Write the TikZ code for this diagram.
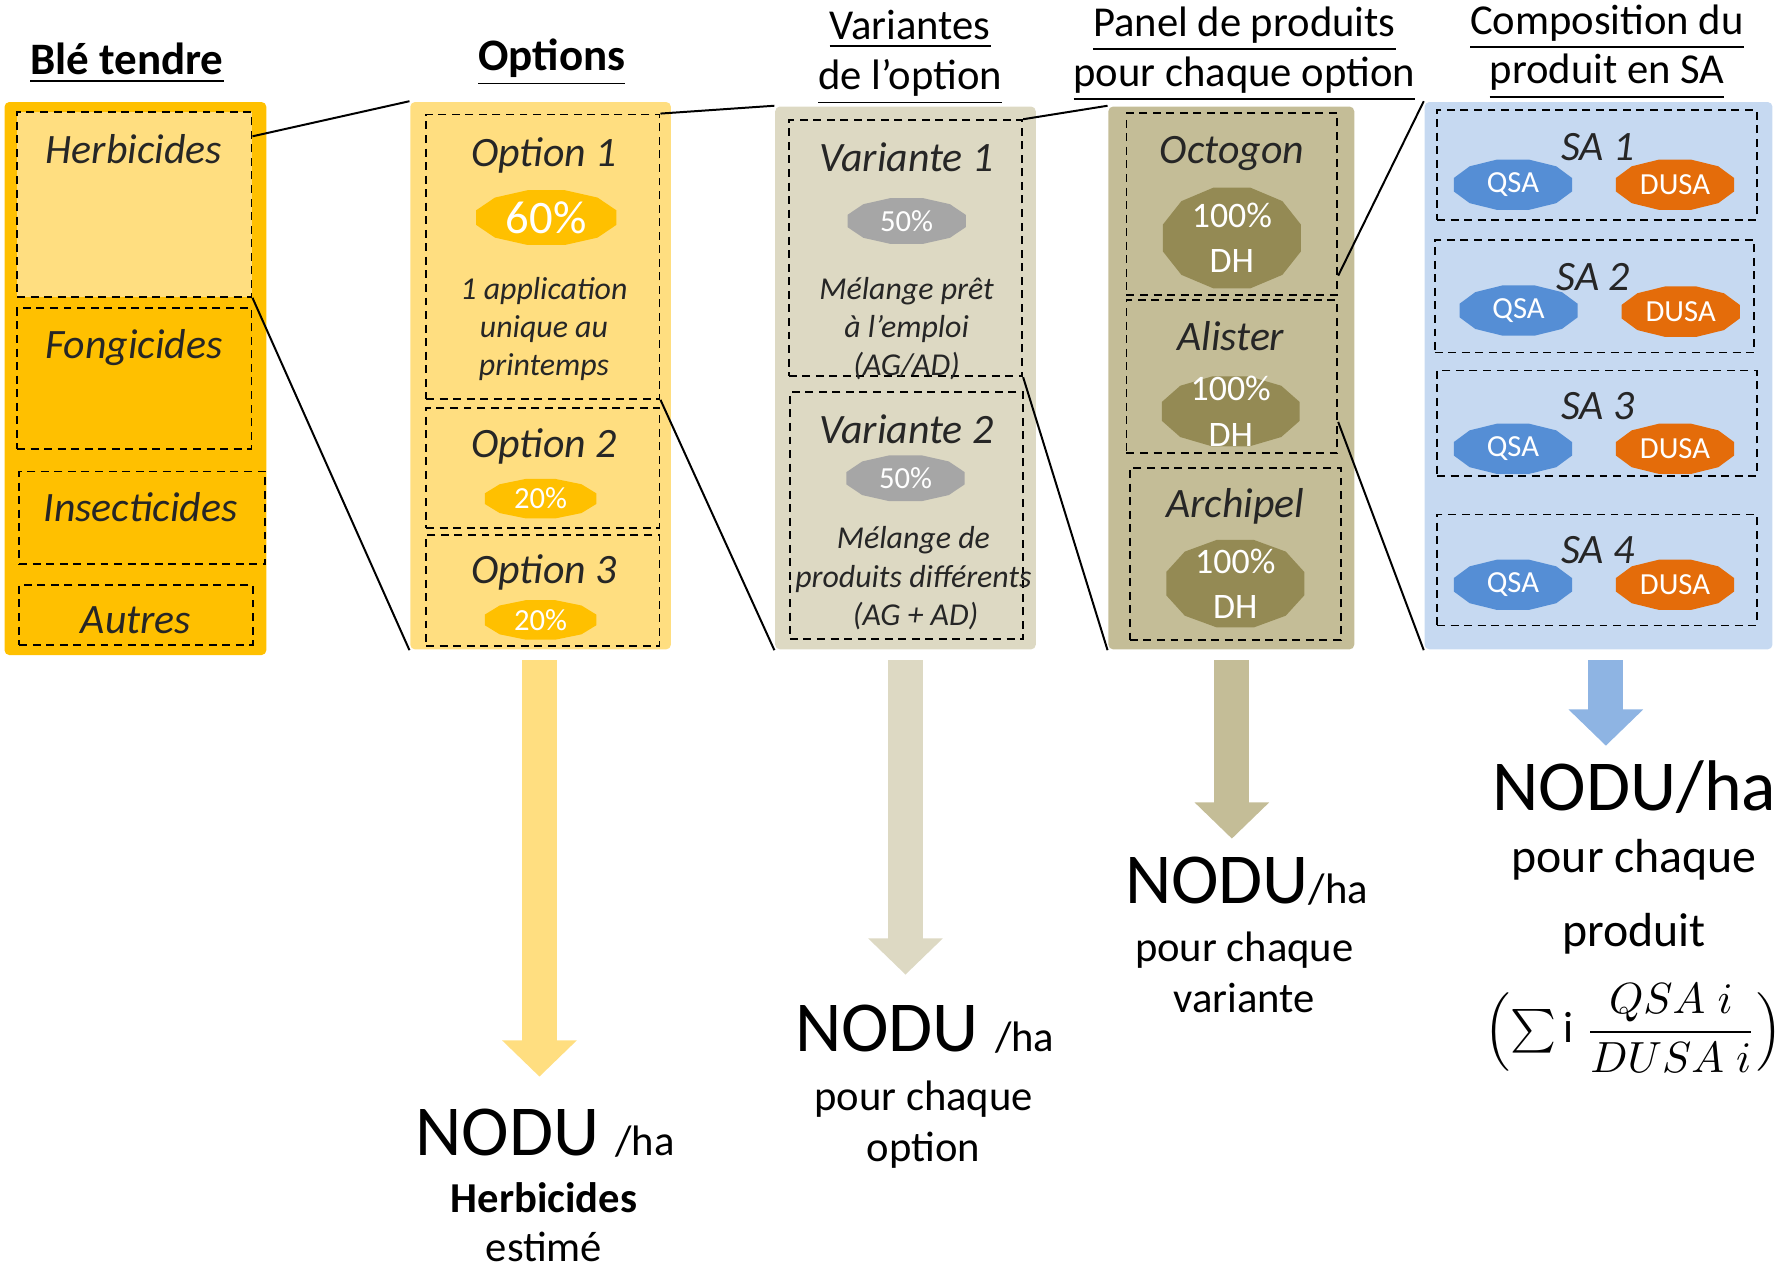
\documentclass[tikz,border=0pt]{standalone}
\usepackage{fontspec}
\usepackage{amsmath}
\setmainfont{Carlito}
\usetikzlibrary{arrows.meta, positioning, calc, fit}

\definecolor{gold}{HTML}{FFC000}
\definecolor{goldlight}{HTML}{FFDE80}
\definecolor{tan}{HTML}{DDD9C3}
\definecolor{tandark}{HTML}{C4BD97}
\definecolor{olive}{HTML}{948A54}
\definecolor{skylight}{HTML}{C6D9F1}
\definecolor{skyarrow}{HTML}{8EB4E3}
\definecolor{qsablue}{HTML}{558ED5}
\definecolor{dusaorange}{HTML}{E46C0A}
\definecolor{pctgray}{HTML}{A6A6A6}
\definecolor{ink}{HTML}{262626}

% badge: name, centre, half width, half height, fill, node options, text
\newcommand{\badge}[7]{%
  \fill[#5, shift={(#2)}] plot[samples=13, domain=15:375, variable=\t] ({#3*cos(\t)}, {#4*sin(\t)}) -- cycle;
  \node[pct, #6] (#1) at (#2) {#7};}

\begin{document}
\begin{tikzpicture}[x=0.1mm, y=-0.1mm,
        panelcol/.style={fill=#1, rounded corners=1.2pt, inner sep=0pt},
        dbox/.style={draw=black, dash pattern=on 2pt off 1.4pt, line width=0.45pt, inner sep=0pt},
        head/.style={font=\fontsize{10.7}{13}\selectfont, anchor=base, inner sep=0pt},
        boldhead/.style={font=\fontsize{11.3}{13}\selectfont\bfseries, anchor=base, inner sep=0pt},
        item/.style={font=\fontsize{10.5}{12}\selectfont\itshape, text=ink, anchor=base, inner sep=0pt},
        detail/.style={font=\fontsize{8}{9.7}\selectfont\itshape, text=ink, anchor=base, inner sep=0pt},
        pct/.style={text=white, align=center, inner sep=0pt, font=\fontsize{7.7}{9}\selectfont},
        dh/.style={font=\fontsize{9}{11.4}\selectfont},
        zoomline/.style={draw=black, line width=0.5pt},
        fat/.style={line width=3.1mm, -{Triangle[width=6.4mm, length=3.2mm]}},
        nodu/.style={font=\fontsize{18}{20}\selectfont, anchor=base, inner sep=0pt},
        result/.style={font=\fontsize{10.7}{13}\selectfont, anchor=base, inner sep=0pt}
    ]
        \useasboundingbox (0,0) rectangle (1568,1124);

        % Ble tendre
        \node[boldhead] (tBle) at (112,66) {\underline{Blé tendre}};
        \node[panelcol=gold, fit={(4,90) (235,578)}] (ble) {};
        \node[dbox, fill=goldlight, fit={(15,99) (222,262)}] (herb) {};
        \node[dbox, fit={(15,272) (222,396)}] (fong) {};
        \node[dbox, fit={(17,416) (234,498)}] (insect) {};
        \node[dbox, fit={(17,516) (223,569)}] (autres) {};
        \node[item] (lHerb) at (118,144) {Herbicides};
        \node[item] (lFong) at (118,316) {Fongicides};
        \node[item] (lInsect) at (124,460) {Insecticides};
        \node[item] (lAutres) at (120,559) {Autres};

        % Options
        \node[boldhead] (tOpt) at (487,62) {\underline{Options}};
        \node[panelcol=goldlight, fit={(362,90) (592,573)}] (opts) {};
        \node[dbox, fit={(376,101) (582,352)}] (opt1) {};
        \node[dbox, fit={(376,360) (582,466)}] (opt2) {};
        \node[dbox, fit={(376,472) (582,570)}] (opt3) {};
        \node[item] (lOpt1) at (480,147) {Option 1};
        \badge{pOpt1}{482,192}{64}{25}{gold}{font=\fontsize{11.7}{13}\selectfont}{60\%}
        \node[detail] (dOpt1a) at (480,264) {1 application};
        \node[detail] (dOpt1b) at (480,298) {unique au};
        \node[detail] (dOpt1c) at (480,331) {printemps};
        \node[item] (lOpt2) at (480,404) {Option 2};
        \badge{pOpt2}{477,440}{51}{18}{gold}{}{20\%}
        \node[item] (lOpt3) at (480,515) {Option 3};
        \badge{pOpt3}{477,547}{51}{18}{gold}{}{20\%}

        % Variantes de l'option
        \node[head] (tVar1) at (803,35) {\underline{Variantes}};
        \node[head] (tVar2) at (803,79) {\underline{de l’option}};
        \node[panelcol=tan, fit={(684,94) (914,573)}] (var) {};
        \node[dbox, fit={(696,106) (902,332)}] (var1) {};
        \node[dbox, fit={(697,346) (903,564)}] (var2) {};
        \node[item] (lVar1) at (800,151) {Variante 1};
        \badge{pVar1}{800,195}{54}{21}{pctgray}{}{50\%}
        \node[detail] (dVar1a) at (800,264) {Mélange prêt};
        \node[detail] (dVar1b) at (800,298) {à l’emploi};
        \node[detail] (dVar1c) at (800,331) {(AG/AD)};
        \node[item] (lVar2) at (800,391) {Variante 2};
        \badge{pVar2}{799,422}{54}{21}{pctgray}{}{50\%}
        \node[detail] (dVar2a) at (806,484) {Mélange de};
        \node[detail] (dVar2b) at (806,518) {produits différents};
        \node[detail] (dVar2c) at (808,552) {(AG + AD)};

        % Panel de produits
        \node[head] (tPan1) at (1098,32) {\underline{Panel de produits}};
        \node[head] (tPan2) at (1098,76) {\underline{pour chaque option}};
        \node[panelcol=tandark, fit={(978,94) (1195,573)}] (panel) {};
        \node[dbox, fit={(994,100) (1180,260)}] (octo) {};
        \node[dbox, fit={(994,265) (1180,400)}] (alis) {};
        \node[dbox, fit={(997,413) (1183,565)}] (archi) {};
        \node[item] (lOcto) at (1087,144) {Octogon};
        \badge{pOcto}{1087,210}{63}{46}{olive}{dh}{100\%\\DH}
        \node[item] (lAlis) at (1086,309) {Alister};
        \badge{pAlis}{1086,363}{63}{32}{olive}{dh}{100\%\\DH}
        \node[item] (lArchi) at (1090,457) {Archipel};
        \badge{pArchi}{1090,515}{63}{40}{olive}{dh}{100\%\\DH}

        % Composition en SA
        \node[head] (tComp1) at (1418,30) {\underline{Composition du}};
        \node[head] (tComp2) at (1418,74) {\underline{produit en SA}};
        \node[panelcol=skylight, fit={(1257,90) (1564,573)}] (comp) {};
        \node[dbox, fit={(1268,97) (1550,194)}] (sa1) {};
        \node[dbox, fit={(1266,212) (1548,311)}] (sa2) {};
        \node[dbox, fit={(1268,327) (1550,420)}] (sa3) {};
        \node[dbox, fit={(1268,454) (1550,552)}] (sa4) {};
        \node[item] (lSa1) at (1410,142) {SA 1};
        \badge{q1}{1335,163}{54}{23}{qsablue}{}{QSA}
        \badge{d1}{1478,163}{54}{23}{dusaorange}{}{DUSA}
        \node[item] (lSa2) at (1406,256) {SA 2};
        \badge{q2}{1340,274}{54}{23}{qsablue}{}{QSA}
        \badge{d2}{1483,275}{54}{23}{dusaorange}{}{DUSA}
        \node[item] (lSa3) at (1410,370) {SA 3};
        \badge{q3}{1335,396}{54}{23}{qsablue}{}{QSA}
        \badge{d3}{1478,396}{54}{23}{dusaorange}{}{DUSA}
        \node[item] (lSa4) at (1410,497) {SA 4};
        \badge{q4}{1335,516}{54}{23}{qsablue}{}{QSA}
        \badge{d4}{1478,516}{54}{23}{dusaorange}{}{DUSA}

        % Zoom lines
        \draw[zoomline] (herb.30) -- (opts.north west);
        \draw[zoomline] (herb.south east) -- (opts.south west);
        \draw[zoomline] (opt1.north east) -- (var.north west);
        \draw[zoomline] (opt1.south east) -- (var.south west);
        \draw[zoomline] (var1.north east) -- (panel.north west);
        \draw[zoomline] (var1.south east) -- (panel.south west);
        \draw[zoomline] (octo.-34) -- (comp.north west);
        \draw[zoomline] (alis.-23) -- (comp.south west);

        % Arrows
        \coordinate (tipOpt) at (476,950);
        \coordinate (tipVar) at (799,860);
        \coordinate (tipPan) at (1087,740);
        \coordinate (tipComp) at (1417,658);
        \draw[fat, draw=goldlight] ($(tipOpt |- opts.south)+(0,9)$) -- (tipOpt);
        \draw[fat, draw=tan] ($(tipVar |- var.south)+(0,9)$) -- (tipVar);
        \draw[fat, draw=tandark] ($(tipPan |- panel.south)+(0,9)$) -- (tipPan);
        \draw[fat, draw=skyarrow] ($(tipComp |- comp.south)+(0,9)$) -- (tipComp);

        % Results
        \node[nodu] (nOpt) at (481,1020) {NODU {\fontsize{10.7}{13}\selectfont /ha}};
        \node[result, font=\fontsize{10.7}{13}\selectfont\bfseries] (rOpt1) at (480,1070) {Herbicides};
        \node[result] (rOpt2) at (480,1113) {estimé};
        \node[nodu] (nVar) at (816,928) {NODU {\fontsize{10.7}{13}\selectfont /ha}};
        \node[result] (rVar1) at (815,980) {pour chaque};
        \node[result] (rVar2) at (815,1025) {option};
        \node[nodu] (nPan) at (1100,797) {NODU{\fontsize{10.7}{13}\selectfont /ha}};
        \node[result] (rPan1) at (1098,848) {pour chaque};
        \node[result] (rPan2) at (1098,893) {variante};
        \node[nodu] (nComp) at (1442,715) {NODU/ha};
        \node[result, font=\fontsize{12}{14}\selectfont] (rComp1) at (1442,770) {pour chaque};
        \node[result, font=\fontsize{12}{14}\selectfont] (rComp2) at (1442,835) {produit};
        \node[inner sep=0pt, font=\fontsize{11}{13}\selectfont] (fComp) at (1441,907) {$\Bigl(\textstyle\sum \mathrm{i}\;\displaystyle\frac{QSA\;i}{DUSA\;i}\Bigr)$};
    \end{tikzpicture}
\end{document}
